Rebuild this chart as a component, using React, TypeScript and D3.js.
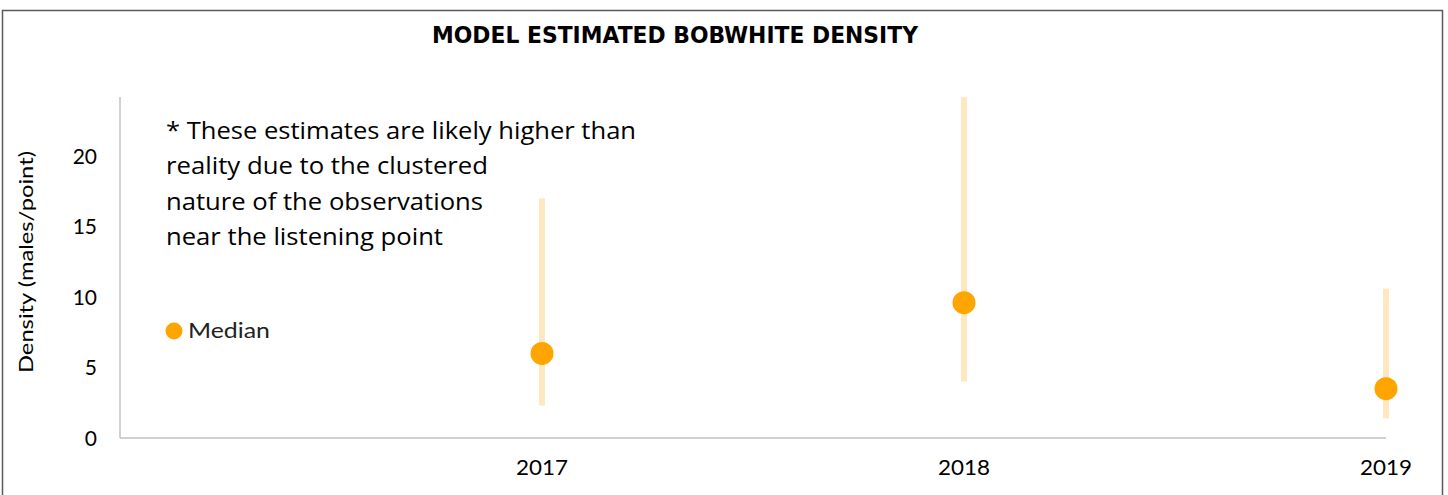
import React from "react";
import * as d3 from "d3";

const categories = ["2017", "2018", "2019"];
const medianValues = [6.0, 9.6, 3.5];
const lowerValues = [2.3, 4.0, 1.4];
const upperValues = [17.0, 24.2, 10.6];
const yTicks = [0, 5, 10, 15, 20];
const noteLines = [
  "* These estimates are likely higher than",
  "reality due to the clustered",
  "nature of the observations",
  "near the listening point",
];
const noteWidths = [470, 322, 317, 277];

const W = 1448;
const H = 495;

export default function App() {
  const x = d3.scaleLinear().domain([0, categories.length]).range([120, 1386]);
  const y = d3.scaleLinear().domain([0, 24.2]).range([438, 97]);
  const font = "'Lato', 'DejaVu Sans', sans-serif";

  return (
    <svg
      width={W}
      height={H}
      style={{ position: "absolute", left: 0, top: 0, background: "#fff" }}
    >
      <rect x={2.5} y={10.5} width={1440} height={500} fill="#fff" stroke="#595959" strokeWidth={1.5} />
      <text
        x={675}
        y={43}
        textAnchor="middle"
        fontFamily="'DejaVu Sans', sans-serif"
        fontWeight="bold"
        fontSize={23}
        textLength={486}
        lengthAdjust="spacingAndGlyphs"
        fill="#000"
      >
        MODEL ESTIMATED BOBWHITE DENSITY
      </text>

      {/* axes */}
      <line x1={120} x2={120} y1={y(24.2)} y2={y(0)} stroke="#c0c0c0" strokeWidth={1.5} />
      <line x1={120} x2={1386} y1={y(0)} y2={y(0)} stroke="#c0c0c0" strokeWidth={1.5} />

      {yTicks.map((t) => (
        <text key={t} x={97} y={y(t) + 7.5} textAnchor="end" fontFamily={font} fontSize={21} fill="#000">
          {t}
        </text>
      ))}
      {categories.map((c, i) => (
        <text
          key={c}
          x={x(i + 1)}
          y={475}
          textAnchor="middle"
          fontFamily={font}
          fontSize={21}
          textLength={52}
          lengthAdjust="spacingAndGlyphs"
          fill="#000"
        >
          {c}
        </text>
      ))}

      <text
        transform={`translate(33,262) rotate(-90)`}
        textAnchor="middle"
        fontFamily={font}
        fontSize={20}
        textLength={222}
        lengthAdjust="spacingAndGlyphs"
        fill="#000"
      >
        Density (males/point)
      </text>

      {/* error bars */}
      {categories.map((c, i) => (
        <rect
          key={"e" + c}
          x={x(i + 1) - 3}
          width={6}
          y={y(upperValues[i])}
          height={y(lowerValues[i]) - y(upperValues[i])}
          fill="#FFE8BF"
        />
      ))}
      {categories.map((c, i) => (
        <circle key={"m" + c} cx={x(i + 1)} cy={y(medianValues[i])} r={11.5} fill="#FFA500" />
      ))}

      {/* note */}
      {noteLines.map((l, i) => (
        <text
          key={i}
          x={166}
          y={139 + i * 35.3}
          fontFamily="'Open Sans', 'Noto Sans', sans-serif"
          fontSize={24}
          textLength={noteWidths[i]}
          lengthAdjust="spacingAndGlyphs"
          fill="#000"
        >
          {l}
        </text>
      ))}

      {/* legend */}
      <circle cx={174} cy={331} r={8.5} fill="#FFA500" />
      <text
        x={188}
        y={338}
        fontFamily={font}
        fontSize={21}
        textLength={82}
        lengthAdjust="spacingAndGlyphs"
        fill="#222"
      >
        Median
      </text>
    </svg>
  );
}
